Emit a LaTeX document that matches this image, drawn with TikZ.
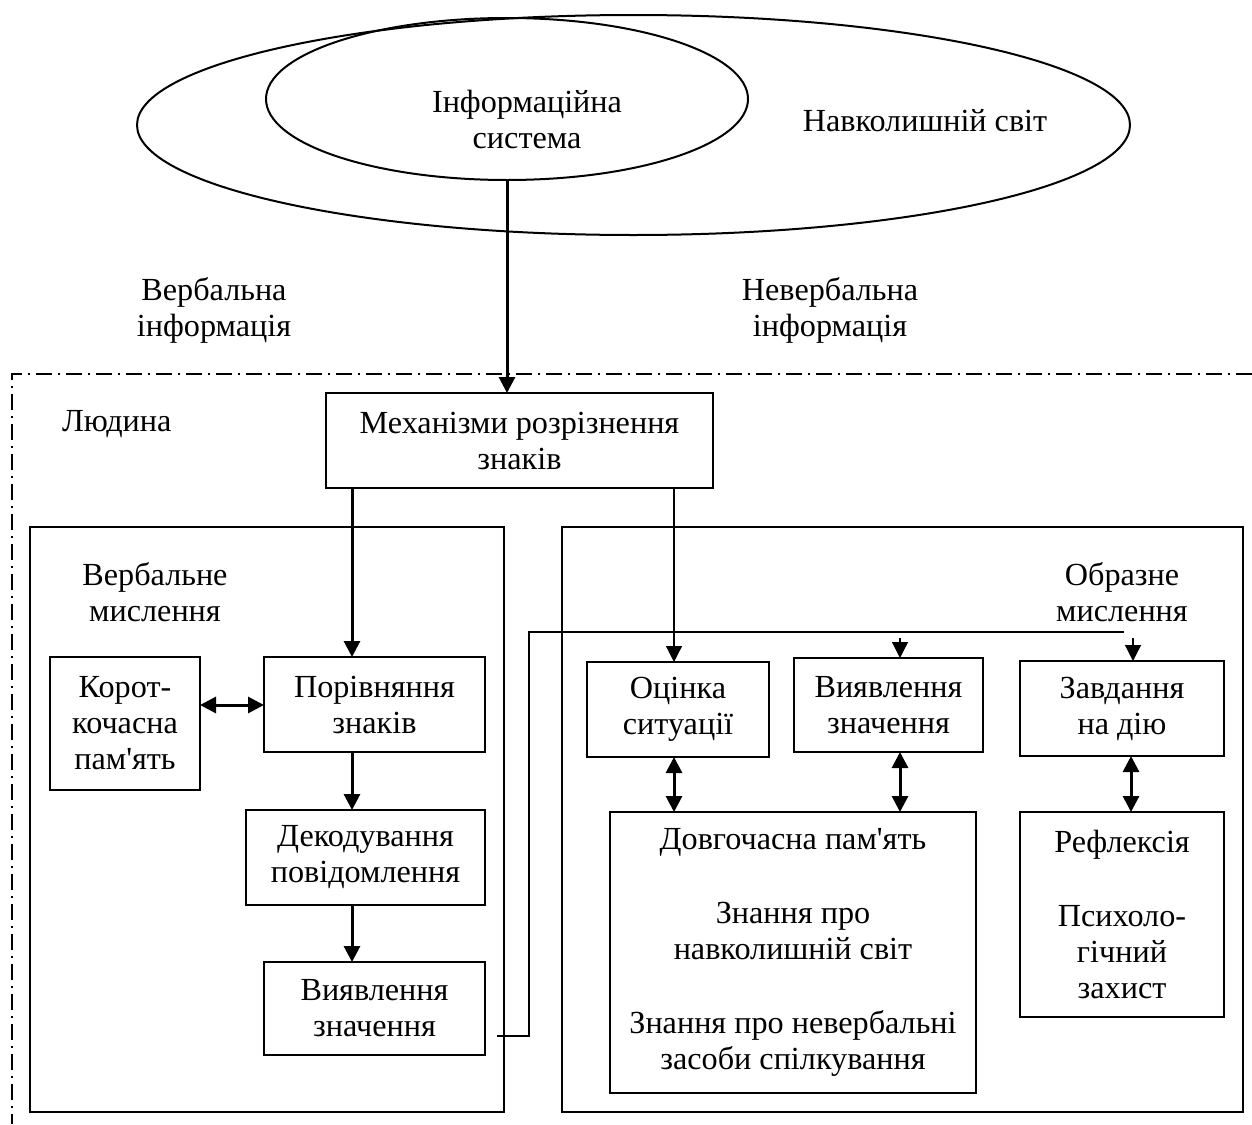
\documentclass[tikz,border=0pt]{standalone}
\usepackage{fontspec}
% no TeX ligature mapping, so the apostrophe stays straight
\setmainfont{Liberation Serif}[Ligatures=TeXOff]
\usetikzlibrary{arrows.meta,shapes.geometric}

\begin{document}
\begin{tikzpicture}[x=0.5pt,y=-0.5pt,
  every node/.style={font=\fontsize{16.1pt}{18pt}\selectfont, align=center, inner sep=0pt, outer sep=0pt},
  box/.style={draw, line width=1pt},
  bigbox/.style={draw, line width=1.3pt},
  oval/.style={draw, ellipse, line width=1pt},
  tip/.tip={Triangle[length=8pt,width=8pt]},
  thickarrow/.style={line width=1.5pt, -tip},
  dblarrow/.style={line width=1.5pt, tip-tip},
  thinarrow/.style={line width=0.6pt, -tip},
  thinline/.style={line width=0.6pt},
  border/.style={line width=0.8pt, dash pattern=on 8pt off 3pt on 1pt off 3pt}
]
\useasboundingbox (0,0) rectangle (1252,1124);

% world and information system
\node[oval, minimum width=496.5pt, minimum height=110pt] (world) at (633.5,125) {};
\node[oval, minimum width=241pt, minimum height=81pt] (infosys) at (507,99) {};
\node (infotext) at (527,119) {Інформаційна\\система};
\node (worldtext) at (925,121) {Навколишній світ};

% kinds of information
\node (verbinfo) at (214,310) {Вербальна\\інформація};
\node (nonverbinfo) at (830,310) {Невербальна\\інформація};

% the human boundary
\draw[border] (1252,374) -| (12,1124);
\node[anchor=west] (human) at (62,424) {Людина};

% sign recognition
\node[box, minimum width=193.5pt, minimum height=47.5pt] (mech) at (519.5,440.5)
  {Механізми розрізнення\\знаків};

% verbal and image thinking areas
\node[bigbox, minimum width=237pt, minimum height=292.5pt] (verbal) at (267,819.5) {};
\node[draw, line width=1pt, minimum width=340.5pt, minimum height=292.5pt] (image) at (902.5,819.5) {};
\node (verbaltext) at (155,592) {Вербальне\\мислення};
\node (imagetext) at (1122,592) {Образне\\мислення};

% verbal chain
\node[box, minimum width=75pt, minimum height=66.5pt] (shortmem) at (125,723.5)
  {Корот-\\кочасна\\пам'ять};
\node[box, minimum width=110.5pt, minimum height=47.5pt] (compare) at (374.5,704.5)
  {Порівняння\\знаків};
\node[box, minimum width=119.5pt, minimum height=47.5pt] (decode) at (365.5,857.5)
  {Декодування\\повідомлення};
\node[box, minimum width=110.5pt, minimum height=46.5pt] (meanL) at (374.5,1008.5)
  {Виявлення\\значення};

% image chain
\node[box, minimum width=91pt, minimum height=47.5pt] (assess) at (678,709.5)
  {Оцінка\\ситуації};
\node[box, minimum width=94.5pt, minimum height=47pt] (meanR) at (888.5,705)
  {Виявлення\\значення};
\node[box, minimum width=102pt, minimum height=47.5pt] (task) at (1122,708.5)
  {Завдання\\на дію};
\node[box, minimum width=183pt, minimum height=140.5pt] (longmem) at (793,952.5)
  {Довгочасна пам'ять\\[19pt]Знання про\\навколишній світ\\[19pt]Знання про невербальні\\засоби спілкування};
\node[box, minimum width=102pt, minimum height=102.5pt] (reflex) at (1122,914.5)
  {Рефлексія\\[19pt]Психоло-\\гічний\\захист};

% guide coordinates for the connectors
\coordinate (lx) at (352,0);
\coordinate (ax) at (674,0);
\coordinate (mx) at (900,0);
\coordinate (tx) at (1131,0);
\coordinate (fb0) at (485,1036);
\coordinate (fb1) at (529,632);
\coordinate (fb2) at (1124,632);
\coordinate (m2) at (900,638);
\coordinate (t2) at (1133,638);

% connectors
\draw[thickarrow] (infosys.south) -- (infosys.south |- mech.north);
\draw[thickarrow] (lx |- mech.south) -- (lx |- compare.north);
\draw[thickarrow] (lx |- compare.south) -- (lx |- decode.north);
\draw[thickarrow] (lx |- decode.south) -- (lx |- meanL.north);
\draw[dblarrow] (shortmem.east |- 0,705) -- (compare.west |- 0,705);
\draw[thinarrow] (ax |- mech.south) -- (ax |- assess.north);
\draw[thinline, shorten <=6pt] (fb0) -| (fb1) -- (fb2);
\draw[thinarrow] (m2) -- (m2 |- meanR.north);
\draw[thinarrow] (t2) -- (t2 |- task.north);
\draw[dblarrow] (ax |- assess.south) -- (ax |- longmem.north);
\draw[dblarrow] (mx |- meanR.south) -- (mx |- longmem.north);
\draw[dblarrow] (tx |- task.south) -- (tx |- reflex.north);
\end{tikzpicture}
\end{document}
